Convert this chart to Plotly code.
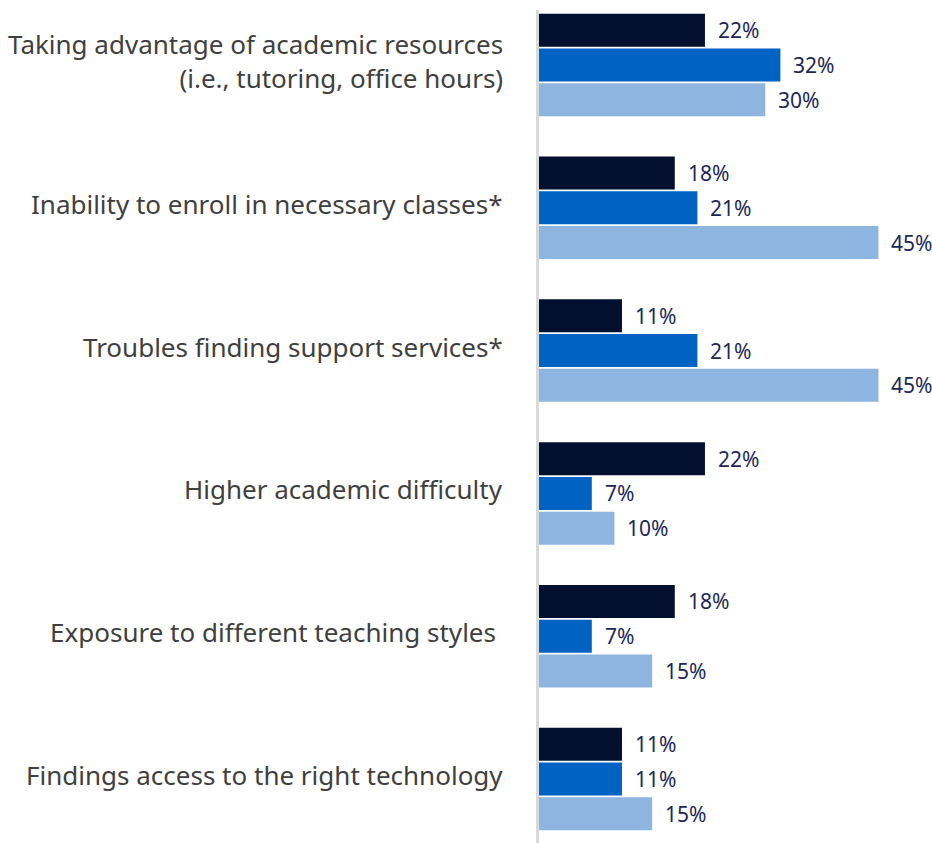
import plotly.graph_objects as go

categories = [
    "Taking advantage of academic resources<br>(i.e., tutoring, office hours)",
    "Inability to enroll in necessary classes*",
    "Troubles finding support services*",
    "Higher academic difficulty",
    "Exposure to different teaching styles ",
    "Findings access to the right technology",
]
series_a = [22, 18, 11, 22, 18, 11]
series_b = [32, 21, 21, 7, 7, 11]
series_c = [30, 45, 45, 10, 15, 15]

series = [series_a, series_b, series_c]
colors = ["#020f2e", "#0063c4", "#8db5e0"]
label_color = "#1c2757"

bargap, groupgap = 0.27, 0.05
y_range = [5.448, -0.385]
plot_h = 843 - 10
px_per_cat = plot_h / (y_range[0] - y_range[1])
slot_px = px_per_cat * (1 - bargap) / len(series)

fig = go.Figure()
annotations = []
for i, (vals, col) in enumerate(zip(series, colors)):
    fig.add_trace(go.Bar(
        y=categories, x=vals, orientation="h",
        marker=dict(color=col, line=dict(width=0)),
        hoverinfo="skip",
    ))
    # value labels placed just right of each bar
    yshift = (1 - i) * slot_px
    for cat, v in zip(categories, vals):
        annotations.append(dict(
            x=v, y=cat, xref="x", yref="y", text=f"{v}%",
            xanchor="left", yanchor="middle", xshift=11, yshift=yshift,
            showarrow=False,
            font=dict(family="Noto Sans", size=21, color=label_color),
        ))

# category labels, right-aligned left of the axis
for cat in categories:
    annotations.append(dict(
        x=0, y=cat, xref="x", yref="y", text=cat,
        xanchor="right", yanchor="middle", align="right",
        xshift=-34, yshift=4, showarrow=False,
        font=dict(family="Noto Sans", size=26, color="#3f3f3f"),
    ))

fig.update_layout(
    width=932, height=843,
    margin=dict(l=539, r=0, t=10, b=0),
    barmode="group", bargap=bargap, bargroupgap=groupgap,
    plot_bgcolor="white", paper_bgcolor="white",
    showlegend=False,
    annotations=annotations,
)
fig.update_xaxes(range=[0, 52.1], visible=False)
fig.update_yaxes(
    range=y_range,
    showline=True, linecolor="#d9d9d9", linewidth=3,
    showgrid=False, zeroline=False, ticks="", showticklabels=False,
)
fig.write_html("out.html")
